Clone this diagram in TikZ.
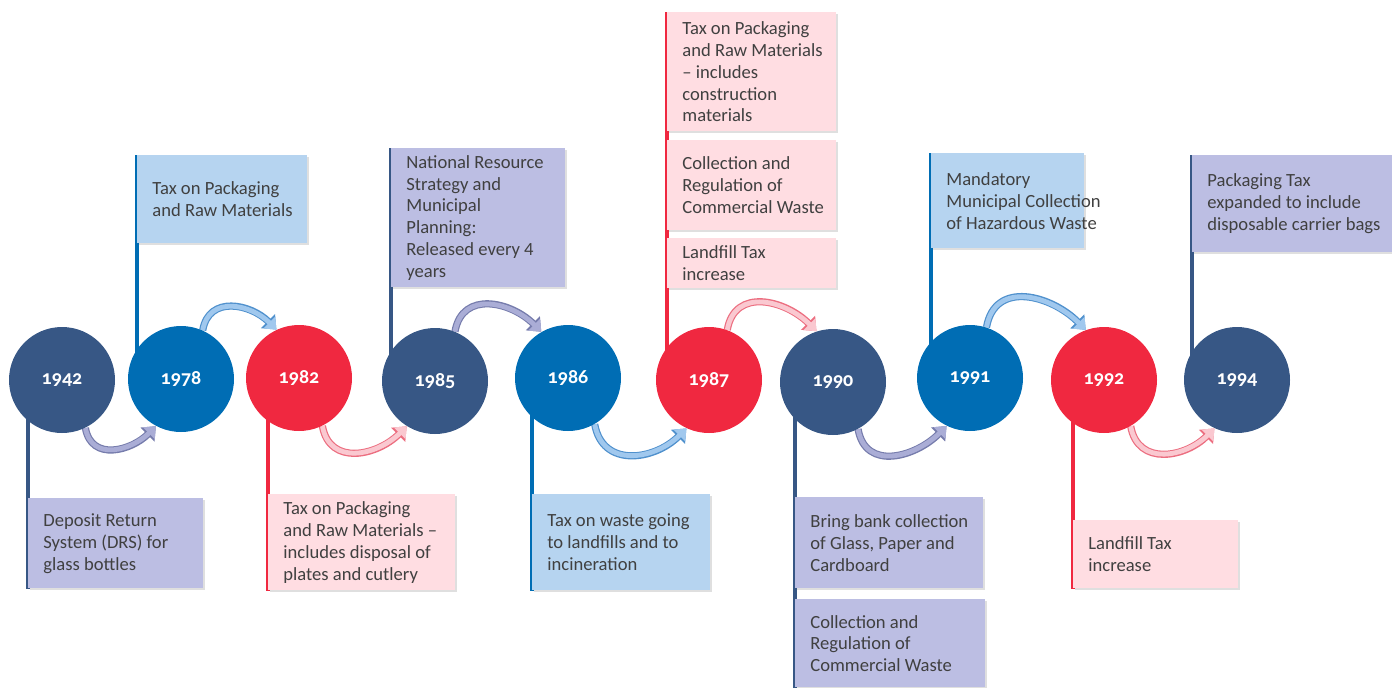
\documentclass[tikz,border=0pt]{standalone}
\usepackage{fontspec}
\setmainfont{Carlito}
\newfontfamily\yearfont[Numbers=OldStyle]{Carlito}
\usetikzlibrary{arrows.meta}
\usetikzlibrary{backgrounds}
\usetikzlibrary{shadows}

\definecolor{tlnavy}{RGB}{55,87,133}
\definecolor{tlblue}{RGB}{0,109,180}
\definecolor{tlred}{RGB}{240,40,64}
\definecolor{lavender}{RGB}{188,190,227}
\definecolor{paleblue}{RGB}{182,212,240}
\definecolor{palepink}{RGB}{255,221,226}
\definecolor{navyarrow}{RGB}{170,173,214}
\definecolor{navyedge}{RGB}{118,124,172}
\definecolor{bluearrow}{RGB}{160,200,238}
\definecolor{blueedge}{RGB}{80,145,205}
\definecolor{redarrow}{RGB}{250,200,208}
\definecolor{rededge}{RGB}{236,110,128}
\definecolor{bodygrey}{RGB}{64,64,64}

\tikzset{
  year/.style={circle,minimum size=53pt,inner sep=0pt,text=white,
    font=\yearfont\bfseries\fontsize{10}{12}\selectfont},
  infobox/.style={rectangle,anchor=north west,inner sep=0pt,
    drop shadow={shadow xshift=0.6pt,shadow yshift=-0.6pt,opacity=0.25}},
  infotext/.style={anchor=west,xshift=7.5pt,align=left,inner sep=0pt,
    text=bodygrey,font=\fontsize{9.3}{10.9}\selectfont},
  stem/.style={line width=2pt},
  flow/.style={line width=2.4pt,looseness=1.25,-{Triangle[length=5pt,width=8pt]}},
  navyflow/.style={flow,navyarrow,preaction={draw=navyedge,line width=3.6pt,-{Triangle[length=6pt,width=9.6pt]}}},
  blueflow/.style={flow,bluearrow,preaction={draw=blueedge,line width=3.6pt,-{Triangle[length=6pt,width=9.6pt]}}},
  redflow/.style={flow,redarrow,preaction={draw=rededge,line width=3.6pt,-{Triangle[length=6pt,width=9.6pt]}}},
  under/.style={out=-80,in=-135},
  over/.style={out=80,in=135}
}

\begin{document}
\begin{tikzpicture}[x=0.5pt,y=-0.5pt]
\useasboundingbox (0,0) rectangle (1392,687);
% year circles
\node[year,fill=tlnavy] (c1942) at (62,380) {1942};
\node[year,fill=tlblue] (c1978) at (181,379) {1978};
\node[year,fill=tlred] (c1982) at (299,378) {1982};
\node[year,fill=tlnavy] (c1985) at (435,381) {1985};
\node[year,fill=tlblue] (c1986) at (568,378) {1986};
\node[year,fill=tlred] (c1987) at (709,380) {1987};
\node[year,fill=tlnavy] (c1990) at (833,382) {1990};
\node[year,fill=tlblue] (c1991) at (970,378) {1991};
\node[year,fill=tlred] (c1992) at (1104,380) {1992};
\node[year,fill=tlnavy] (c1994) at (1237,380) {1994};

% boxes
\node[infobox,fill=lavender,minimum width=87.5pt,minimum height=45pt] (b1942) at (28,498) {};
\node[infotext] (t1942) at (b1942.west) {Deposit Return\\System (DRS) for\\glass bottles};
\node[infobox,fill=paleblue,minimum width=85pt,minimum height=44pt] (b1978) at (137,155) {};
\node[infotext] (t1978) at (b1978.west) {Tax on Packaging\\and Raw Materials};
\node[infobox,fill=palepink,minimum width=93.5pt,minimum height=48pt] (b1982) at (268,494) {};
\node[infotext] (t1982) at (b1982.west) {Tax on Packaging\\and Raw Materials --\\includes disposal of\\plates and cutlery};
\node[infobox,fill=lavender,minimum width=87pt,minimum height=69.5pt] (b1985) at (391,148) {};
\node[infotext] (t1985) at (b1985.west) {National Resource\\Strategy and\\Municipal\\Planning:\\Released every 4\\years};
\node[infobox,fill=paleblue,minimum width=89pt,minimum height=48pt] (b1986) at (532,494) {};
\node[infotext] (t1986) at (b1986.west) {Tax on waste going\\to landfills and to\\incineration};
\node[infobox,fill=palepink,minimum width=84.5pt,minimum height=59.5pt] (b1987a) at (667,12) {};
\node[infotext] (t1987a) at (b1987a.west) {Tax on Packaging\\and Raw Materials\\-- includes\\construction\\materials};
\node[infobox,fill=palepink,minimum width=84.5pt,minimum height=45pt] (b1987b) at (667,140) {};
\node[infotext] (t1987b) at (b1987b.west) {Collection and\\Regulation of\\Commercial Waste};
\node[infobox,fill=palepink,minimum width=84.5pt,minimum height=25pt] (b1987c) at (667,238) {};
\node[infotext] (t1987c) at (b1987c.west) {Landfill Tax\\increase};
\node[infobox,fill=lavender,minimum width=94pt,minimum height=45.5pt] (b1990a) at (795,497) {};
\node[infotext] (t1990a) at (b1990a.west) {Bring bank collection\\of Glass, Paper and\\Cardboard};
\node[infobox,fill=lavender,minimum width=95pt,minimum height=44pt] (b1990b) at (795,599) {};
\node[infotext] (t1990b) at (b1990b.west) {Collection and\\Regulation of\\Commercial Waste};
\node[infobox,fill=paleblue,minimum width=76.5pt,minimum height=47.5pt] (b1991) at (931,153) {};
\node[infotext] (t1991) at (b1991.west) {Mandatory\\Municipal Collection\\of Hazardous Waste};
\node[infobox,fill=palepink,minimum width=82.5pt,minimum height=34pt] (b1992) at (1073,520) {};
\node[infotext] (t1992) at (b1992.west) {Landfill Tax\\increase};
\node[infobox,fill=lavender,minimum width=100pt,minimum height=48.5pt] (b1994) at (1192,155) {};
\node[infotext] (t1994) at (b1994.west) {Packaging Tax\\expanded to include\\disposable carrier bags};

\begin{pgfonlayer}{background}
% stems
\draw[stem,tlnavy] (b1942.south west) -- (b1942.south west |- c1942.center);
\draw[stem,tlblue] (b1978.north west) -- (b1978.north west |- c1978.center);
\draw[stem,tlred] (b1982.south west) -- (b1982.south west |- c1982.center);
\draw[stem,tlnavy] (b1985.north west) -- (b1985.north west |- c1985.center);
\draw[stem,tlblue] (b1986.south west) -- (b1986.south west |- c1986.center);
\draw[stem,tlred] (b1987a.north west) -- (b1987a.north west |- c1987.center);
\draw[stem,tlnavy] (b1990b.south west) -- (b1990b.south west |- c1990.center);
\draw[stem,tlblue] (b1991.north west) -- (b1991.north west |- c1991.center);
\draw[stem,tlred] (b1992.south west) -- (b1992.south west |- c1992.center);
\draw[stem,tlnavy] (b1994.north west) -- (b1994.north west |- c1994.center);
% arrows
\draw[navyflow] (c1942.-64) to[under] (c1978.-118);
\draw[blueflow] (c1978.66) to[over] (c1982.115);
\draw[redflow] (c1982.-64) to[under] (c1985.-122);
\draw[navyflow] (c1985.68) to[over] (c1986.120);
\draw[blueflow] (c1986.-60) to[under] (c1987.-115);
\draw[redflow] (c1987.70) to[over] (c1990.108);
\draw[navyflow] (c1990.-62) to[under] (c1991.-116);
\draw[blueflow] (c1991.72) to[over] (c1992.110);
\draw[redflow] (c1992.-60) to[under] (c1994.-115);
\end{pgfonlayer}
\end{tikzpicture}
\end{document}
